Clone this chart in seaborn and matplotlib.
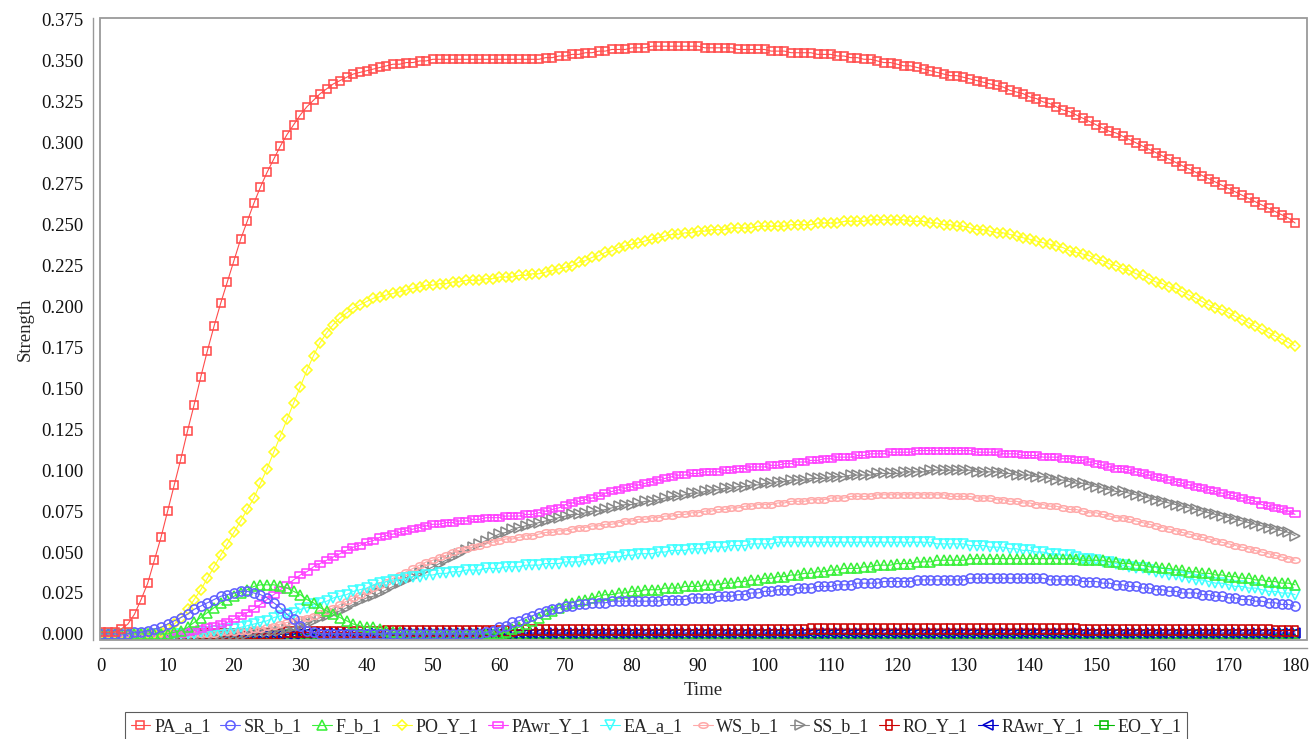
import numpy as np
import pandas as pd
import matplotlib
matplotlib.use("Agg")
import matplotlib.pyplot as plt
from matplotlib.path import Path
from matplotlib.patches import Rectangle
from matplotlib.lines import Line2D
from matplotlib.ticker import FormatStrFormatter
import seaborn as sns

time = list(range(0, 181))

pa_a_1 = [
    0.001, 0.001, 0.001, 0.003, 0.006, 0.012, 0.021, 0.031, 0.045, 0.059,
    0.075, 0.091, 0.107, 0.124, 0.140, 0.157, 0.173, 0.188, 0.202, 0.215,
    0.228, 0.241, 0.252, 0.263, 0.273, 0.282, 0.290, 0.298, 0.305, 0.311,
    0.317, 0.322, 0.326, 0.330, 0.333, 0.336, 0.338, 0.340, 0.342, 0.343,
    0.344, 0.345, 0.346, 0.347, 0.348, 0.348, 0.349, 0.349, 0.350, 0.350,
    0.351, 0.351, 0.351, 0.351, 0.351, 0.351, 0.351, 0.351, 0.351, 0.351,
    0.351, 0.351, 0.351, 0.351, 0.351, 0.351, 0.351, 0.352, 0.352, 0.353,
    0.353, 0.354, 0.354, 0.355, 0.355, 0.356, 0.356, 0.357, 0.357, 0.357,
    0.358, 0.358, 0.358, 0.359, 0.359, 0.359, 0.359, 0.359, 0.359, 0.359,
    0.359, 0.358, 0.358, 0.358, 0.358, 0.358, 0.357, 0.357, 0.357, 0.357,
    0.357, 0.356, 0.356, 0.356, 0.355, 0.355, 0.355, 0.355, 0.354, 0.354,
    0.354, 0.353, 0.353, 0.352, 0.352, 0.351, 0.351, 0.350, 0.349, 0.349,
    0.348, 0.347, 0.347, 0.346, 0.345, 0.344, 0.343, 0.342, 0.341, 0.341,
    0.340, 0.339, 0.338, 0.337, 0.336, 0.335, 0.334, 0.332, 0.331, 0.330,
    0.328, 0.327, 0.325, 0.324, 0.322, 0.320, 0.319, 0.317, 0.315, 0.313,
    0.311, 0.309, 0.307, 0.306, 0.304, 0.302, 0.300, 0.298, 0.296, 0.294,
    0.292, 0.290, 0.288, 0.286, 0.284, 0.282, 0.280, 0.278, 0.276, 0.274,
    0.272, 0.270, 0.268, 0.266, 0.264, 0.262, 0.260, 0.258, 0.256, 0.254,
    0.251,
]

sr_b_1 = [
    0.000, 0.000, 0.000, 0.000, 0.000, 0.001, 0.001, 0.002, 0.003, 0.004,
    0.006, 0.008, 0.010, 0.012, 0.015, 0.017, 0.019, 0.021, 0.023, 0.024,
    0.025, 0.026, 0.026, 0.025, 0.024, 0.022, 0.019, 0.016, 0.012, 0.009,
    0.005, 0.002, 0.001, 0.000, 0.000, 0.000, 0.000, 0.000, 0.000, 0.000,
    0.000, 0.000, 0.000, 0.000, 0.000, 0.000, 0.000, 0.000, 0.000, 0.000,
    0.000, 0.000, 0.000, 0.000, 0.000, 0.000, 0.000, 0.000, 0.001, 0.002,
    0.004, 0.005, 0.007, 0.008, 0.010, 0.011, 0.013, 0.014, 0.015, 0.016,
    0.017, 0.017, 0.018, 0.018, 0.019, 0.019, 0.019, 0.020, 0.020, 0.020,
    0.020, 0.020, 0.020, 0.020, 0.020, 0.021, 0.021, 0.021, 0.021, 0.022,
    0.022, 0.022, 0.022, 0.023, 0.023, 0.023, 0.024, 0.024, 0.025, 0.025,
    0.026, 0.026, 0.027, 0.027, 0.027, 0.028, 0.028, 0.028, 0.029, 0.029,
    0.029, 0.030, 0.030, 0.030, 0.031, 0.031, 0.031, 0.031, 0.032, 0.032,
    0.032, 0.032, 0.032, 0.033, 0.033, 0.033, 0.033, 0.033, 0.033, 0.033,
    0.033, 0.034, 0.034, 0.034, 0.034, 0.034, 0.034, 0.034, 0.034, 0.034,
    0.034, 0.034, 0.034, 0.033, 0.033, 0.033, 0.033, 0.033, 0.032, 0.032,
    0.032, 0.031, 0.031, 0.030, 0.030, 0.029, 0.029, 0.028, 0.028, 0.027,
    0.027, 0.026, 0.026, 0.025, 0.025, 0.025, 0.024, 0.024, 0.023, 0.023,
    0.022, 0.022, 0.021, 0.021, 0.020, 0.020, 0.019, 0.019, 0.018, 0.018,
    0.017,
]

f_b_1 = [
    0.000, 0.000, 0.000, 0.000, 0.000, 0.000, 0.000, 0.000, 0.000, 0.000,
    0.000, 0.001, 0.002, 0.004, 0.007, 0.010, 0.013, 0.016, 0.019, 0.021,
    0.023, 0.025, 0.027, 0.029, 0.030, 0.030, 0.030, 0.029, 0.028, 0.026,
    0.024, 0.021, 0.019, 0.016, 0.014, 0.012, 0.010, 0.008, 0.006, 0.005,
    0.004, 0.004, 0.003, 0.002, 0.001, 0.001, 0.000, 0.000, 0.000, 0.000,
    0.000, 0.000, 0.000, 0.000, 0.000, 0.000, 0.000, 0.000, 0.000, 0.000,
    0.000, 0.001, 0.003, 0.004, 0.006, 0.008, 0.010, 0.012, 0.014, 0.016,
    0.018, 0.019, 0.020, 0.021, 0.022, 0.023, 0.024, 0.024, 0.025, 0.025,
    0.026, 0.026, 0.027, 0.027, 0.027, 0.028, 0.028, 0.028, 0.029, 0.029,
    0.029, 0.030, 0.030, 0.030, 0.031, 0.031, 0.032, 0.032, 0.033, 0.033,
    0.034, 0.034, 0.035, 0.035, 0.036, 0.036, 0.037, 0.037, 0.038, 0.038,
    0.039, 0.039, 0.040, 0.040, 0.040, 0.041, 0.041, 0.042, 0.042, 0.042,
    0.043, 0.043, 0.043, 0.044, 0.044, 0.044, 0.045, 0.045, 0.045, 0.045,
    0.045, 0.046, 0.046, 0.046, 0.046, 0.046, 0.046, 0.046, 0.046, 0.046,
    0.046, 0.046, 0.046, 0.046, 0.046, 0.046, 0.046, 0.046, 0.045, 0.045,
    0.045, 0.045, 0.044, 0.044, 0.043, 0.043, 0.042, 0.042, 0.041, 0.041,
    0.040, 0.040, 0.039, 0.039, 0.038, 0.038, 0.037, 0.037, 0.036, 0.036,
    0.035, 0.035, 0.034, 0.034, 0.033, 0.033, 0.032, 0.032, 0.031, 0.031,
    0.030,
]

po_y_1 = [
    0.000, 0.000, 0.000, 0.000, 0.000, 0.000, 0.000, 0.000, 0.000, 0.001,
    0.003, 0.006, 0.010, 0.015, 0.021, 0.027, 0.034, 0.041, 0.048, 0.055,
    0.062, 0.069, 0.076, 0.083, 0.092, 0.101, 0.111, 0.121, 0.131, 0.141,
    0.151, 0.161, 0.170, 0.178, 0.184, 0.189, 0.193, 0.196, 0.199, 0.201,
    0.203, 0.205, 0.206, 0.207, 0.208, 0.209, 0.210, 0.211, 0.212, 0.213,
    0.213, 0.214, 0.214, 0.215, 0.215, 0.216, 0.216, 0.216, 0.217, 0.217,
    0.218, 0.218, 0.218, 0.219, 0.219, 0.220, 0.220, 0.221, 0.222, 0.223,
    0.224, 0.225, 0.227, 0.228, 0.230, 0.231, 0.233, 0.234, 0.236, 0.237,
    0.238, 0.239, 0.240, 0.241, 0.242, 0.243, 0.244, 0.244, 0.245, 0.245,
    0.246, 0.246, 0.247, 0.247, 0.247, 0.248, 0.248, 0.248, 0.248, 0.249,
    0.249, 0.249, 0.249, 0.249, 0.250, 0.250, 0.250, 0.250, 0.251, 0.251,
    0.251, 0.251, 0.252, 0.252, 0.252, 0.252, 0.253, 0.253, 0.253, 0.253,
    0.253, 0.253, 0.252, 0.252, 0.252, 0.251, 0.251, 0.250, 0.250, 0.249,
    0.249, 0.248, 0.247, 0.247, 0.246, 0.245, 0.245, 0.244, 0.243, 0.242,
    0.241, 0.240, 0.239, 0.238, 0.237, 0.236, 0.234, 0.233, 0.232, 0.231,
    0.229, 0.228, 0.226, 0.225, 0.223, 0.222, 0.220, 0.219, 0.217, 0.215,
    0.214, 0.212, 0.211, 0.209, 0.207, 0.205, 0.203, 0.201, 0.199, 0.198,
    0.196, 0.194, 0.192, 0.190, 0.188, 0.186, 0.184, 0.182, 0.180, 0.178,
    0.176,
]

pawr_y_1 = [
    0.000, 0.000, 0.000, 0.000, 0.000, 0.000, 0.000, 0.000, 0.000, 0.000,
    0.000, 0.000, 0.000, 0.001, 0.002, 0.003, 0.004, 0.005, 0.006, 0.007,
    0.009, 0.011, 0.013, 0.015, 0.018, 0.021, 0.024, 0.027, 0.030, 0.033,
    0.036, 0.038, 0.041, 0.043, 0.045, 0.047, 0.049, 0.051, 0.053, 0.054,
    0.056, 0.057, 0.059, 0.060, 0.061, 0.062, 0.063, 0.064, 0.065, 0.066,
    0.067, 0.067, 0.068, 0.068, 0.069, 0.069, 0.070, 0.070, 0.071, 0.071,
    0.071, 0.072, 0.072, 0.072, 0.073, 0.073, 0.074, 0.075, 0.076, 0.077,
    0.079, 0.080, 0.081, 0.082, 0.083, 0.084, 0.086, 0.087, 0.088, 0.089,
    0.090, 0.091, 0.092, 0.093, 0.094, 0.095, 0.096, 0.097, 0.097, 0.098,
    0.098, 0.099, 0.099, 0.099, 0.100, 0.100, 0.101, 0.101, 0.102, 0.102,
    0.102, 0.103, 0.103, 0.104, 0.104, 0.105, 0.105, 0.106, 0.106, 0.107,
    0.107, 0.108, 0.108, 0.108, 0.109, 0.109, 0.110, 0.110, 0.110, 0.111,
    0.111, 0.111, 0.111, 0.112, 0.112, 0.112, 0.112, 0.112, 0.112, 0.112,
    0.112, 0.112, 0.111, 0.111, 0.111, 0.111, 0.110, 0.110, 0.110, 0.109,
    0.109, 0.109, 0.108, 0.108, 0.108, 0.107, 0.107, 0.106, 0.106, 0.105,
    0.104, 0.103, 0.102, 0.101, 0.101, 0.100, 0.099, 0.098, 0.097, 0.096,
    0.095, 0.094, 0.093, 0.092, 0.091, 0.090, 0.089, 0.088, 0.087, 0.086,
    0.085, 0.084, 0.083, 0.082, 0.081, 0.079, 0.078, 0.077, 0.076, 0.075,
    0.073,
]

ea_a_1 = [
    0.000, 0.000, 0.000, 0.000, 0.000, 0.000, 0.000, 0.000, 0.000, 0.000,
    0.000, 0.000, 0.000, 0.000, 0.000, 0.001, 0.001, 0.002, 0.002, 0.003,
    0.003, 0.004, 0.005, 0.006, 0.007, 0.008, 0.010, 0.011, 0.012, 0.013,
    0.015, 0.016, 0.018, 0.019, 0.020, 0.022, 0.023, 0.024, 0.026, 0.027,
    0.028, 0.030, 0.031, 0.032, 0.033, 0.033, 0.034, 0.035, 0.035, 0.036,
    0.036, 0.037, 0.037, 0.038, 0.038, 0.039, 0.039, 0.039, 0.040, 0.040,
    0.040, 0.041, 0.041, 0.041, 0.042, 0.042, 0.042, 0.043, 0.043, 0.043,
    0.044, 0.044, 0.044, 0.045, 0.045, 0.046, 0.046, 0.047, 0.047, 0.048,
    0.048, 0.049, 0.049, 0.049, 0.050, 0.050, 0.051, 0.051, 0.051, 0.052,
    0.052, 0.052, 0.053, 0.053, 0.053, 0.054, 0.054, 0.054, 0.055, 0.055,
    0.055, 0.055, 0.056, 0.056, 0.056, 0.056, 0.056, 0.056, 0.056, 0.056,
    0.056, 0.056, 0.056, 0.056, 0.056, 0.056, 0.056, 0.056, 0.056, 0.056,
    0.056, 0.056, 0.056, 0.056, 0.056, 0.056, 0.055, 0.055, 0.055, 0.055,
    0.055, 0.054, 0.054, 0.054, 0.053, 0.053, 0.053, 0.052, 0.052, 0.051,
    0.051, 0.050, 0.050, 0.049, 0.049, 0.048, 0.048, 0.047, 0.046, 0.046,
    0.045, 0.044, 0.044, 0.043, 0.042, 0.041, 0.040, 0.040, 0.039, 0.038,
    0.037, 0.036, 0.036, 0.035, 0.034, 0.033, 0.033, 0.032, 0.031, 0.031,
    0.030, 0.029, 0.029, 0.028, 0.028, 0.027, 0.026, 0.026, 0.025, 0.025,
    0.024,
]

ws_b_1 = [
    0.000, 0.000, 0.000, 0.000, 0.000, 0.000, 0.000, 0.000, 0.000, 0.000,
    0.000, 0.000, 0.000, 0.000, 0.000, 0.000, 0.000, 0.000, 0.001, 0.001,
    0.001, 0.002, 0.002, 0.003, 0.003, 0.004, 0.005, 0.006, 0.007, 0.008,
    0.009, 0.010, 0.011, 0.013, 0.014, 0.016, 0.018, 0.020, 0.022, 0.024,
    0.026, 0.028, 0.030, 0.032, 0.034, 0.036, 0.038, 0.040, 0.042, 0.044,
    0.045, 0.047, 0.048, 0.050, 0.051, 0.052, 0.053, 0.054, 0.055, 0.056,
    0.057, 0.058, 0.058, 0.059, 0.060, 0.060, 0.061, 0.062, 0.062, 0.063,
    0.063, 0.064, 0.065, 0.065, 0.066, 0.066, 0.067, 0.067, 0.068, 0.069,
    0.069, 0.070, 0.070, 0.071, 0.071, 0.072, 0.072, 0.073, 0.073, 0.074,
    0.074, 0.075, 0.075, 0.076, 0.076, 0.077, 0.077, 0.078, 0.078, 0.079,
    0.079, 0.079, 0.080, 0.080, 0.081, 0.081, 0.081, 0.082, 0.082, 0.082,
    0.083, 0.083, 0.083, 0.084, 0.084, 0.084, 0.084, 0.085, 0.085, 0.085,
    0.085, 0.085, 0.085, 0.085, 0.085, 0.085, 0.085, 0.085, 0.084, 0.084,
    0.084, 0.084, 0.083, 0.083, 0.083, 0.082, 0.082, 0.081, 0.081, 0.080,
    0.080, 0.079, 0.079, 0.078, 0.078, 0.077, 0.076, 0.076, 0.075, 0.074,
    0.074, 0.073, 0.072, 0.071, 0.071, 0.070, 0.069, 0.068, 0.067, 0.066,
    0.065, 0.064, 0.063, 0.062, 0.061, 0.060, 0.059, 0.058, 0.057, 0.056,
    0.055, 0.054, 0.053, 0.052, 0.051, 0.050, 0.049, 0.048, 0.047, 0.046,
    0.045,
]

ss_b_1 = [
    0.000, 0.000, 0.000, 0.000, 0.000, 0.000, 0.000, 0.000, 0.000, 0.000,
    0.000, 0.000, 0.000, 0.000, 0.000, 0.000, 0.000, 0.000, 0.000, 0.000,
    0.000, 0.000, 0.000, 0.001, 0.001, 0.001, 0.002, 0.002, 0.003, 0.004,
    0.005, 0.007, 0.008, 0.010, 0.011, 0.013, 0.014, 0.016, 0.018, 0.020,
    0.022, 0.023, 0.025, 0.027, 0.029, 0.031, 0.033, 0.035, 0.037, 0.039,
    0.041, 0.043, 0.045, 0.047, 0.049, 0.051, 0.053, 0.055, 0.057, 0.059,
    0.061, 0.062, 0.064, 0.065, 0.066, 0.067, 0.068, 0.069, 0.070, 0.071,
    0.072, 0.073, 0.073, 0.074, 0.075, 0.075, 0.076, 0.077, 0.078, 0.079,
    0.079, 0.080, 0.081, 0.081, 0.082, 0.083, 0.084, 0.084, 0.085, 0.086,
    0.086, 0.087, 0.088, 0.088, 0.089, 0.089, 0.090, 0.090, 0.091, 0.091,
    0.092, 0.092, 0.093, 0.093, 0.094, 0.094, 0.094, 0.095, 0.095, 0.095,
    0.096, 0.096, 0.096, 0.097, 0.097, 0.097, 0.097, 0.098, 0.098, 0.098,
    0.098, 0.099, 0.099, 0.099, 0.099, 0.100, 0.100, 0.100, 0.100, 0.100,
    0.100, 0.100, 0.099, 0.099, 0.099, 0.099, 0.098, 0.098, 0.097, 0.097,
    0.097, 0.096, 0.096, 0.095, 0.094, 0.094, 0.093, 0.092, 0.092, 0.091,
    0.090, 0.089, 0.088, 0.087, 0.087, 0.086, 0.085, 0.084, 0.083, 0.082,
    0.081, 0.080, 0.079, 0.078, 0.077, 0.076, 0.075, 0.074, 0.073, 0.072,
    0.071, 0.070, 0.069, 0.068, 0.067, 0.066, 0.065, 0.064, 0.063, 0.062,
    0.060,
]

ro_y_1 = ([0.000] * 28 + [0.001] * 15 + [0.002] * 20 + [0.0025] * 44
          + [0.003] * 41 + [0.0025] * 29 + [0.002] * 4)

rawr_y_1 = [0.000] * 30 + [0.0005] * 151

eo_y_1 = [0.000] * 181

series_names = ["PA_a_1", "SR_b_1", "F_b_1", "PO_Y_1", "PAwr_Y_1", "EA_a_1",
                "WS_b_1", "SS_b_1", "RO_Y_1", "RAwr_Y_1", "EO_Y_1"]
series_values = [pa_a_1, sr_b_1, f_b_1, po_y_1, pawr_y_1, ea_a_1,
                 ws_b_1, ss_b_1, ro_y_1, rawr_y_1, eo_y_1]
series_colors = ["#FF4C4C", "#6060FF", "#3AF03A", "#FFFF22", "#FF40FF", "#40FFFF",
                 "#FFAAAA", "#888888", "#CC0000", "#0000CC", "#00BB00"]

# jfreechart style shapes
hrect = [(-1, -0.55), (1, -0.55), (1, 0.55), (-1, 0.55), (-1, -0.55)]
vrect = [(-0.55, -1), (0.55, -1), (0.55, 1), (-0.55, 1), (-0.55, -1)]
uc = Path.unit_circle()
hell = Path(uc.vertices * np.array([1.0, 0.6]), uc.codes)
series_markers = ["s", "o", "^", "D", hrect, "v", hell, ">", vrect, "<", "s"]
series_msize = [6.3, 6.6, 6.8, 4.6, 6.6, 6.8, 6.6, 6.8, 6.6, 6.8, 6.3]

df = pd.DataFrame({"Time": time})
for name, vals in zip(series_names, series_values):
    df[name] = vals

sns.set_style("white")
plt.rcParams["font.family"] = ["Liberation Serif", "DejaVu Serif"]

fig = plt.figure(figsize=(13.12, 7.39), dpi=100)
ax = fig.add_axes([0.0762, 0.134, 0.9200, 0.8416])

for i in reversed(range(len(series_names))):
    sns.lineplot(data=df, x="Time", y=series_names[i], ax=ax,
                 color=series_colors[i], linewidth=0.8,
                 marker=series_markers[i], markersize=series_msize[i],
                 markerfacecolor="none", markeredgecolor=series_colors[i],
                 markeredgewidth=1.15)

ax.set_xlim(-0.2, 181.8)
ax.set_ylim(-0.0037, 0.3762)
ax.set_xticks(np.arange(0, 181, 10))
ax.set_yticks(np.arange(0, 0.376, 0.025))
ax.yaxis.set_major_formatter(FormatStrFormatter("%.3f"))

for side in ["top", "right"]:
    ax.spines[side].set_visible(False)
ax.spines["left"].set_position(("outward", 5))
ax.spines["bottom"].set_position(("outward", 6))
for side in ["left", "bottom"]:
    ax.spines[side].set_color("#999999")
    ax.spines[side].set_linewidth(1.0)
ax.add_patch(Rectangle((0, 0), 1, 1, transform=ax.transAxes, fill=False,
                       edgecolor="#9A9A9A", linewidth=1.3, clip_on=False, zorder=5))

ax.tick_params(axis="both", which="major", length=4, width=0.8, color="#888888",
               labelsize=13.5, labelcolor="#111111", pad=3)
ax.set_xlabel("Time", fontsize=13.5, labelpad=5)
ax.set_ylabel("Strength", fontsize=13.5, labelpad=5)

handles = [Line2D([0], [0], color=c, linewidth=0.8, marker=m, markersize=s,
                  markerfacecolor="none", markeredgecolor=c, markeredgewidth=1.15)
           for c, m, s in zip(series_colors, series_markers, series_msize)]
leg = fig.legend(handles, series_names, loc="lower center", bbox_to_anchor=(0.5, -0.014),
                 ncol=11, frameon=True, fontsize=13, handlelength=1.1,
                 handletextpad=0.2, columnspacing=0.55, borderpad=0.3,
                 fancybox=False, edgecolor="#333333")
leg.get_frame().set_linewidth(0.8)

fig.savefig("out.png", dpi=100)
